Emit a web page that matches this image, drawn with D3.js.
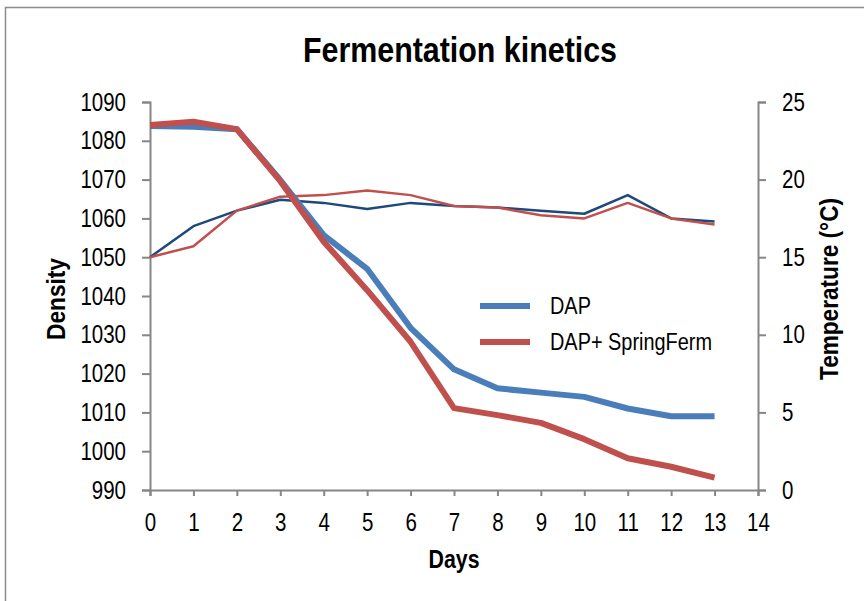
<!DOCTYPE html>
<html>
<head>
<meta charset="utf-8">
<script src="https://cdn.jsdelivr.net/npm/d3@7/dist/d3.min.js"></script>
<style>
  body { margin: 0; background: #fff; }
  svg text { font-family: "Liberation Sans", Arial, sans-serif; fill: #000; }
  .axis path, .axis line { stroke: #868686; stroke-width: 2; }
</style>
</head>
<body>
<div id="chart"></div>
<script>
// days of fermentation
var days = [0, 1, 2, 3, 4, 5, 6, 7, 8, 9, 10, 11, 12, 13];

// density (left axis)
var densityDAP = [1083.8, 1083.6, 1083.0, 1069.9, 1055.7, 1047.0, 1031.8, 1021.1, 1016.2, 1015.1, 1014.0, 1011.0, 1009.0, 1009.0];
var densitySpring = [1084.1, 1084.9, 1083.0, 1069.6, 1054.0, 1041.5, 1028.2, 1011.1, 1009.3, 1007.3, 1003.1, 998.2, 996.0, 993.2];

// temperature (right axis)
var tempDAP = [15.0, 17.0, 18.0, 18.7, 18.5, 18.1, 18.5, 18.3, 18.2, 18.0, 17.8, 19.0, 17.5, 17.3];
var tempSpring = [15.0, 15.7, 18.0, 18.9, 19.0, 19.3, 19.0, 18.3, 18.2, 17.7, 17.5, 18.5, 17.5, 17.1];

var seriesNames = ["DAP", "DAP+ SpringFerm"];
var xTicks = d3.range(0, 15);
var densityTicks = d3.range(990, 1091, 10);
var tempTicks = [0, 5, 10, 15, 20, 25];

var width = 864,
    height = 601,
    margin = {top: 102, right: 106, bottom: 111, left: 150},
    colors = {blue: "#4a7ebb", darkBlue: "#1f497d", red: "#c0504d"},
    narrowFactor = 0.82; // the original uses a narrow face

var svg = d3.select("#chart").append("svg")
    .attr("width", width)
    .attr("height", height);

// squeeze text horizontally, either by a factor or to a fixed length
function narrow(sel, f, len) {
    sel.each(function() {
        var l = len || this.getComputedTextLength() * f;
        d3.select(this).attr("textLength", l).attr("lengthAdjust", "spacingAndGlyphs");
    });
}

// outer frame (cropped page)
svg.append("path")
    .attr("d", "M5.5,601 V7.5 H864")
    .attr("fill", "none")
    .attr("stroke", "#8c8c8c")
    .attr("stroke-width", 1.5);

var x = d3.scaleLinear().domain([0, 14]).range([margin.left, width - margin.right]),
    y = d3.scaleLinear().domain([990, 1090]).range([height - margin.bottom, margin.top]),
    yT = d3.scaleLinear().domain([0, 25]).range([height - margin.bottom, margin.top]);

// axes
var xAxisText = svg.append("g")
    .attr("class", "axis axis--x")
    .attr("transform", "translate(0," + y(990) + ")")
    .call(d3.axisBottom(x).tickValues(xTicks).tickSize(6).tickPadding(17).tickFormat(d3.format("d")))
    .selectAll("text").style("font-size", "25px");

var yAxisText = svg.append("g")
    .attr("class", "axis axis--y")
    .attr("transform", "translate(" + x(0) + ",0)")
    .call(d3.axisLeft(y).tickValues(densityTicks).tickSize(8).tickPadding(16).tickFormat(d3.format("d")))
    .selectAll("text").style("font-size", "25px");

var y2AxisText = svg.append("g")
    .attr("class", "axis axis--y2")
    .attr("transform", "translate(" + x(14) + ",0)")
    .call(d3.axisRight(yT).tickValues(tempTicks).tickSize(8).tickPadding(16).tickFormat(d3.format("d")))
    .selectAll("text").style("font-size", "25px");

svg.selectAll(".axis .domain").attr("fill", "none");
narrow(xAxisText, narrowFactor);
narrow(yAxisText, narrowFactor);
narrow(y2AxisText, narrowFactor);

// lines
function lineFor(scale) {
    return d3.line()
        .x(function(d, i) { return x(days[i]); })
        .y(function(d) { return scale(d); });
}

var lines = [
    {values: tempDAP, scale: yT, color: colors.darkBlue, w: 2.5},
    {values: tempSpring, scale: yT, color: colors.red, w: 2.5},
    {values: densityDAP, scale: y, color: colors.blue, w: 6},
    {values: densitySpring, scale: y, color: colors.red, w: 6}
];

svg.append("g").selectAll("path")
    .data(lines)
    .enter().append("path")
    .attr("fill", "none")
    .attr("stroke", function(d) { return d.color; })
    .attr("stroke-width", function(d) { return d.w; })
    .attr("stroke-linejoin", "round")
    .attr("d", function(d) { return lineFor(d.scale)(d.values); });

// title
svg.append("text")
    .attr("x", 460)
    .attr("y", 62)
    .attr("text-anchor", "middle")
    .style("font-size", "35px")
    .style("font-weight", "bold")
    .text("Fermentation kinetics")
    .call(narrow, 0, 314);

// axis titles
svg.append("text")
    .attr("transform", "translate(65,299) rotate(-90)")
    .attr("text-anchor", "middle")
    .style("font-size", "25px")
    .style("font-weight", "bold")
    .text("Density")
    .call(narrow, 0, 82);

svg.append("text")
    .attr("transform", "translate(838,289) rotate(-90)")
    .attr("text-anchor", "middle")
    .style("font-size", "25px")
    .style("font-weight", "bold")
    .text("Temperature (°C)")
    .call(narrow, 0, 182);

svg.append("text")
    .attr("x", 454)
    .attr("y", 568)
    .attr("text-anchor", "middle")
    .style("font-size", "25px")
    .style("font-weight", "bold")
    .text("Days")
    .call(narrow, 0, 51);

// legend
var legend = svg.append("g").attr("transform", "translate(480,306)");
var legendColors = [colors.blue, colors.red];
var item = legend.selectAll("g")
    .data(seriesNames)
    .enter().append("g")
    .attr("transform", function(d, i) { return "translate(0," + (i * 36) + ")"; });
item.append("line")
    .attr("x1", 0).attr("x2", 50)
    .attr("stroke", function(d, i) { return legendColors[i]; })
    .attr("stroke-width", 6);
item.append("text")
    .attr("x", 70)
    .attr("dy", "0.36em")
    .style("font-size", "23px")
    .text(function(d) { return d; })
    .call(narrow, 0.865);
</script>
</body>
</html>
